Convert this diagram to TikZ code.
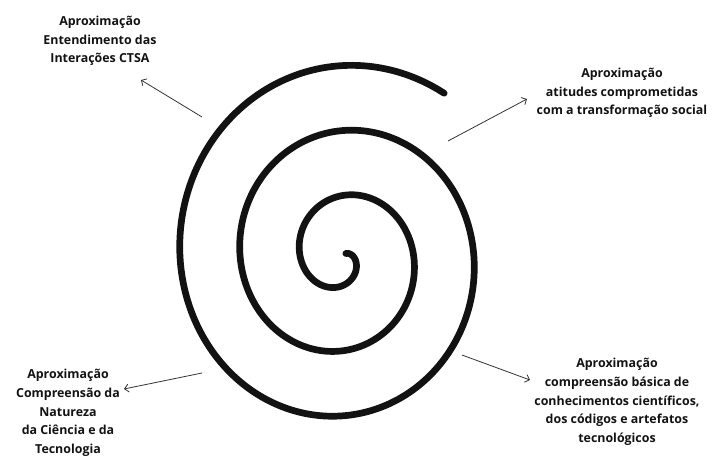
\documentclass[tikz,border=0pt]{standalone}
\usepackage{fontspec}
\setmainfont{Open Sans}
\usetikzlibrary{positioning,calc,arrows.meta}

\begin{document}
\begin{tikzpicture}[
    x=1pt,
    y=-1pt,
    >={Straight Barb[length=4pt,width=8pt]},
    spiral/.style={
        draw=black!93,
        line width=6.7pt,
        line cap=round
    },
    pointer/.style={
        draw=black!80,
        line width=0.8pt,
        ->
    },
    label/.style={
        align=center,
        inner sep=0pt,
        text=black!93,
        font=\bfseries\fontsize{12.4}{18.7}\selectfont
    }
]

\useasboundingbox (0,0) rectangle (715,460);

%%%%%%%%%%%%%%%%%%%%%%%%%%%%%%%%%%%%%%%%%%%%%%%%%%%%
%% Spiral
%%%%%%%%%%%%%%%%%%%%%%%%%%%%%%%%%%%%%%%%%%%%%%%%%%%%

\coordinate (centre) at (342,257);

\draw[spiral] plot[domain=-40:1024, samples=400, variable=\t, smooth]
    ({342 + 0.925*0.18056*(\t+70)*cos(\t)}, {257 + 0.18056*(\t+70)*sin(\t)});

%%%%%%%%%%%%%%%%%%%%%%%%%%%%%%%%%%%%%%%%%%%%%%%%%%%%
%% Labels
%%%%%%%%%%%%%%%%%%%%%%%%%%%%%%%%%%%%%%%%%%%%%%%%%%%%

\node[label] (ctsa) at (100,41)
{Aproximação\\Entendimento das\\Interações CTSA};

\node[label] (atitudes) at (622,93)
{Aproximação\\atitudes comprometidas\\com a transformação social};

\node[label] (natureza) at (68,413)
{Aproximação\\Compreensão da\\Natureza\\da Ciência e da\\Tecnologia};

\node[label] (basica) at (617,402)
{Aproximação\\compreensão básica de\\conhecimentos científicos,\\dos códigos e artefatos\\tecnológicos};

%%%%%%%%%%%%%%%%%%%%%%%%%%%%%%%%%%%%%%%%%%%%%%%%%%%%
%% Arrow ends
%%%%%%%%%%%%%%%%%%%%%%%%%%%%%%%%%%%%%%%%%%%%%%%%%%%%

\coordinate (ctsatail)     at (202,117);
\coordinate (ctsahead)     at (141,80);
\coordinate (atitudestail) at (448,141);
\coordinate (atitudeshead) at (527,99);
\coordinate (naturezatail) at (202,373);
\coordinate (naturezahead) at (124,389);
\coordinate (basicatail)   at (462,355);
\coordinate (basicahead)   at (530,380);

%%%%%%%%%%%%%%%%%%%%%%%%%%%%%%%%%%%%%%%%%%%%%%%%%%%%
%% Arrows
%%%%%%%%%%%%%%%%%%%%%%%%%%%%%%%%%%%%%%%%%%%%%%%%%%%%

\draw[pointer] (ctsatail) -- (ctsahead);
\draw[pointer] (atitudestail) -- (atitudeshead);
\draw[pointer] (naturezatail) -- (naturezahead);
\draw[pointer] (basicatail) -- (basicahead);

\end{tikzpicture}
\end{document}
